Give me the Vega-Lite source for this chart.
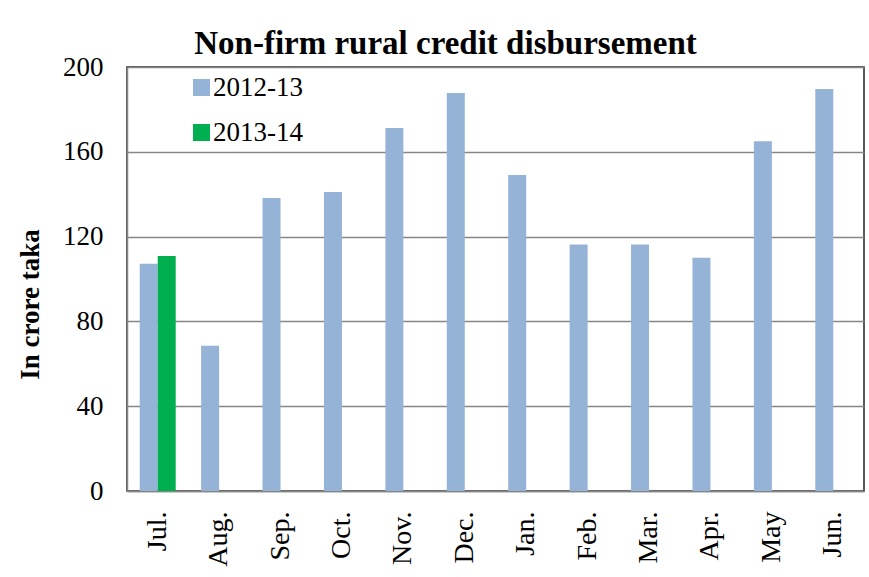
{
  "$schema": "https://vega.github.io/schema/vega-lite/v6.json",
  "width": 737,
  "height": 424,
  "autosize": {"type": "none"},
  "padding": {"left": 127, "top": 67, "right": 6, "bottom": 86},
  "background": "white",
  "title": {
    "text": "Non-firm rural credit disbursement",
    "font": "Liberation Serif",
    "fontSize": 33,
    "fontWeight": "bold",
    "color": "#000000",
    "anchor": "middle",
    "dx": -50,
    "offset": -8
  },
  "data": {
    "values": [
      {"month": "Jul.", "series": "2012-13", "value": 107.2},
      {"month": "Jul.", "series": "2013-14", "value": 110.8},
      {"month": "Aug.", "series": "2012-13", "value": 68.5},
      {"month": "Sep.", "series": "2012-13", "value": 138.2},
      {"month": "Oct.", "series": "2012-13", "value": 141},
      {"month": "Nov.", "series": "2012-13", "value": 171.2},
      {"month": "Dec.", "series": "2012-13", "value": 187.7},
      {"month": "Jan.", "series": "2012-13", "value": 149},
      {"month": "Feb.", "series": "2012-13", "value": 116.3},
      {"month": "Mar.", "series": "2012-13", "value": 116.3},
      {"month": "Apr.", "series": "2012-13", "value": 110},
      {"month": "May", "series": "2012-13", "value": 165},
      {"month": "Jun.", "series": "2012-13", "value": 189.6}
    ]
  },
  "mark": {"type": "bar"},
  "encoding": {
    "x": {
      "field": "month",
      "type": "nominal",
      "sort": null,
      "scale": {"paddingInner": 0.414, "paddingOuter": 0.207},
      "axis": {
        "title": null,
        "labelAngle": -90,
        "labelFont": "Liberation Serif",
        "labelFontSize": 28,
        "labelColor": "#000000",
        "labelPadding": 20,
        "ticks": false,
        "domainColor": "#868686",
        "domainWidth": 1.5
      }
    },
    "xOffset": {"field": "series", "type": "nominal", "scale": {"paddingInner": 0, "paddingOuter": 0}},
    "y": {
      "field": "value",
      "type": "quantitative",
      "scale": {"domain": [0, 200], "nice": false},
      "axis": {
        "title": "In crore taka",
        "titleFont": "Liberation Serif",
        "titleFontSize": 27,
        "titleFontWeight": "bold",
        "titleColor": "#000000",
        "titlePadding": 18,
        "titleY": 237,
        "values": [0, 40, 80, 120, 160, 200],
        "labelFont": "Liberation Serif",
        "labelFontSize": 27,
        "labelColor": "#000000",
        "labelPadding": 24,
        "ticks": false,
        "grid": true,
        "gridColor": "#868686",
        "gridWidth": 1.5,
        "domainColor": "#868686",
        "domainWidth": 1.5
      }
    },
    "color": {
      "field": "series",
      "type": "nominal",
      "scale": {"domain": ["2012-13", "2013-14"], "range": ["#95B3D7", "#00B050"]},
      "legend": {
        "title": null,
        "orient": "none",
        "legendX": 61,
        "legendY": 7,
        "symbolType": "square",
        "symbolSize": 289,
        "symbolStrokeWidth": 0,
        "labelFont": "Liberation Serif",
        "labelFontSize": 27,
        "labelColor": "#000000",
        "labelOffset": -2,
        "rowPadding": 17
      }
    }
  },
  "config": {
    "view": {"stroke": "#222222", "strokeWidth": 1.5},
    "axis": {"gridOpacity": 1}
  }
}
